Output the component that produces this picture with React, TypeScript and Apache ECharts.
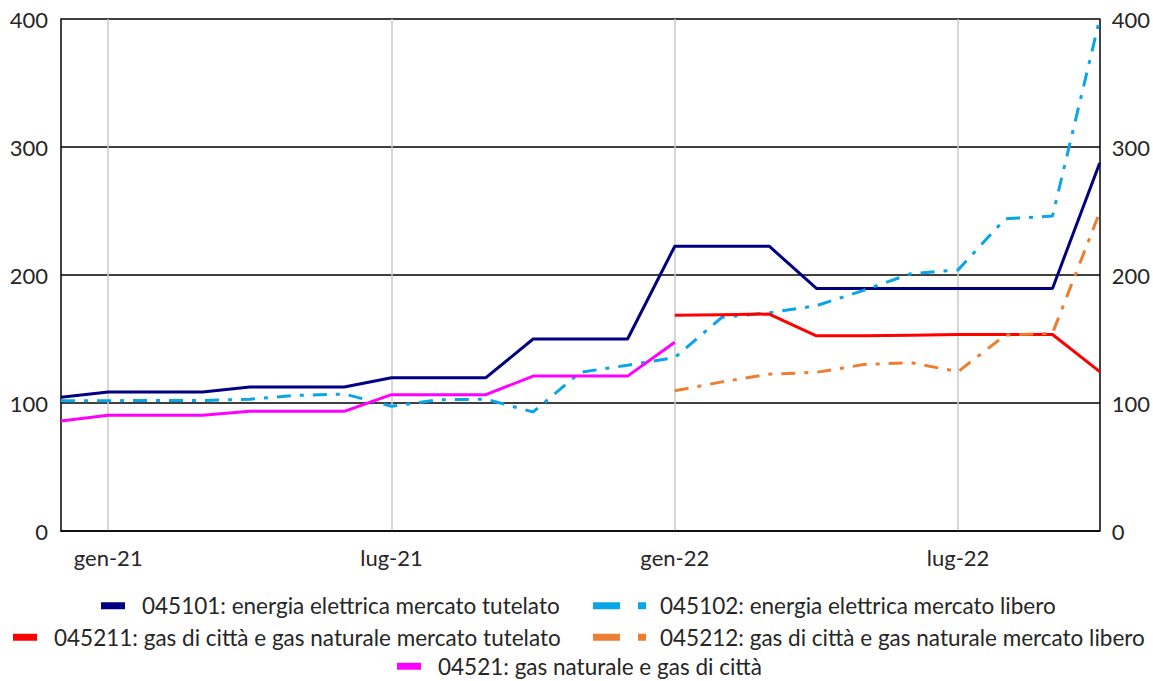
import React, { useEffect, useRef } from "react";
import * as echarts from "echarts";

const categories = [
  "dic-20", "gen-21", "feb-21", "mar-21", "apr-21", "mag-21", "giu-21", "lug-21", "ago-21", "set-21", "ott-21", "nov-21",
  "dic-21", "gen-22", "feb-22", "mar-22", "apr-22", "mag-22", "giu-22", "lug-22", "ago-22", "set-22", "ott-22",
];

const elettricaTutelato = [104.5, 108.6, 108.6, 108.6, 112.5, 112.5, 112.5, 119.8, 119.8, 119.8, 150, 150, 150, 222.5, 222.5, 222.5, 189.5, 189.5, 189.5, 189.5, 189.5, 189.5, 287.5];
const elettricaLibero = [101.8, 101.8, 102, 102, 103, 106, 107, 97.5, 102.5, 103, 93, 124, 129.5, 135.5, 167, 170.5, 176, 188, 201, 204, 244, 246, 400];
const gasTutelato = [null, null, null, null, null, null, null, null, null, null, null, null, null, 168.5, 169, 169.5, 152.5, 152.5, 153, 153.5, 153.5, 153.5, 124.5];
const gasLibero = [null, null, null, null, null, null, null, null, null, null, null, null, null, 109.5, 116.5, 122.5, 124, 130, 131.5, 124.5, 153, 154.5, 249];
const gasNaturale = [86, 90.5, 90.5, 90.5, 93.5, 93.5, 93.5, 106.5, 106.5, 106.5, 121, 121, 121, 147.5, null, null, null, null, null, null, null, null, null];

const names = [
  "045101: energia elettrica mercato tutelato",
  "045102: energia elettrica mercato libero",
  "045211: gas di città e gas naturale mercato tutelato",
  "045212: gas di città e gas naturale mercato libero",
  "04521: gas naturale e gas di città",
];
const colors = ["#000080", "#0aa5e6", "#ff0000", "#ed7d31", "#ff00ff"];

const FONT = "Lato";
const FS = 22;
const LFS = 22.5;
const TXT = "#262626";
const dashDot = [14, 9, 4, 9];
const dashIcon = "path://M0,0h27v7h-27z M45,0h8v7h-8z";

export default function App() {
  const ref = useRef<HTMLDivElement>(null);
  useEffect(() => {
    if (!ref.current) return;
    const chart = echarts.init(ref.current, null, { renderer: "svg" });
    const showMonth = (_i: number, v: string) => v.startsWith("gen") || v.startsWith("lug");
    const mkLegend = (idx: number, left: number, centerY: number, dashed: boolean) => ({
      orient: "horizontal",
      selectedMode: false,
      data: [{ name: names[idx], icon: dashed ? dashIcon : "rect" }],
      left,
      top: centerY - 5 - LFS / 2,
      itemWidth: dashed ? 53 : 24,
      itemHeight: 7,
      textStyle: { fontFamily: FONT, fontSize: LFS, color: TXT, padding: dashed ? [0, 0, 0, 9] : [0, 0, 0, 12] },
    });
    const option: any = {
      animation: false,
      backgroundColor: "#ffffff",
      textStyle: { fontFamily: FONT },
      grid: { left: 61, right: 53, top: 19, bottom: 150, containLabel: false },
      legend: [
        mkLegend(0, 96, 605.5, false),
        mkLegend(1, 588, 605.5, true),
        mkLegend(2, 8, 637, false),
        mkLegend(3, 588, 637, true),
        mkLegend(4, 392, 666, false),
      ],
      xAxis: {
        type: "category",
        data: categories,
        boundaryGap: false,
        axisLine: { show: true, lineStyle: { color: "#000", width: 1.5 } },
        axisTick: { show: false },
        axisLabel: { interval: showMonth, fontFamily: FONT, fontSize: FS, color: TXT, margin: 15 },
        splitLine: { show: true, interval: showMonth, lineStyle: { color: "#c8c8c8", width: 1.5 } },
      },
      yAxis: [
        {
          type: "value",
          min: 0,
          max: 400,
          interval: 100,
          position: "left",
          axisLine: { show: true, lineStyle: { color: "#000", width: 1.5 } },
          axisTick: { show: false },
          axisLabel: { fontFamily: FONT, fontSize: FS, color: TXT, margin: 13 },
          splitLine: { show: true, lineStyle: { color: "#000", width: 1.5 } },
        },
        {
          type: "value",
          min: 0,
          max: 400,
          interval: 100,
          position: "right",
          axisLine: { show: true, lineStyle: { color: "#000", width: 1.5 } },
          axisTick: { show: false },
          axisLabel: { fontFamily: FONT, fontSize: FS, color: TXT, margin: 12 },
          splitLine: { show: false },
        },
      ],
      series: [
        { name: names[0], type: "line", data: elettricaTutelato, color: colors[0], showSymbol: false, lineStyle: { width: 3, color: colors[0] } },
        { name: names[1], type: "line", data: elettricaLibero, color: colors[1], showSymbol: false, lineStyle: { width: 3, color: colors[1], type: dashDot } },
        { name: names[2], type: "line", data: gasTutelato, color: colors[2], showSymbol: false, lineStyle: { width: 3, color: colors[2] } },
        { name: names[3], type: "line", data: gasLibero, color: colors[3], showSymbol: false, lineStyle: { width: 3, color: colors[3], type: dashDot } },
        { name: names[4], type: "line", data: gasNaturale, color: colors[4], showSymbol: false, lineStyle: { width: 3, color: colors[4] } },
      ],
    };
    chart.setOption(option);
    return () => chart.dispose();
  }, []);
  return (
    <div
      ref={ref}
      style={{ position: "fixed", left: 0, top: 0, width: 1153, height: 681, background: "#fff" }}
    />
  );
}
